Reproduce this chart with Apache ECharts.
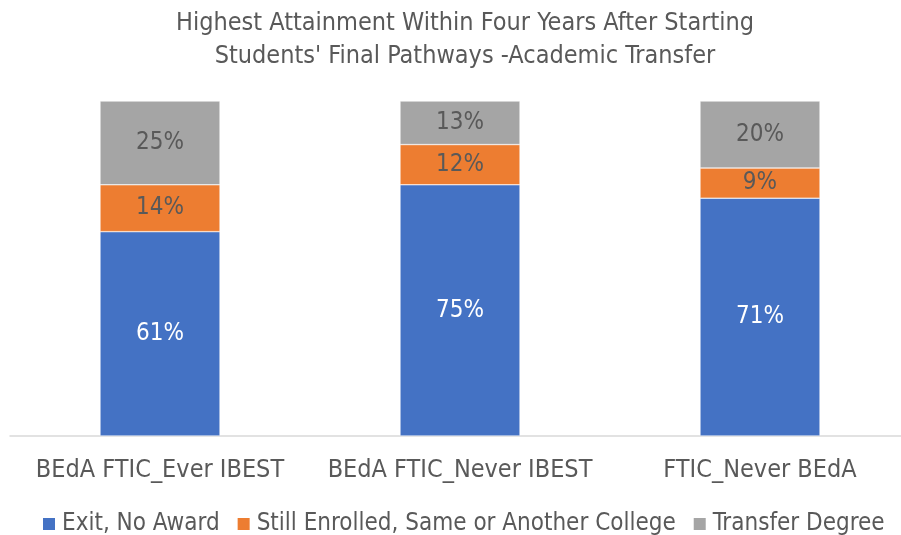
<!DOCTYPE html>
<html>
<head>
<meta charset="utf-8">
<script src="https://cdn.jsdelivr.net/npm/echarts@6/dist/echarts.min.js"></script>
<style>
  html, body { margin: 0; padding: 0; background: #fff; overflow: hidden; }
  #chart { width: 920px; height: 535px; }
</style>
</head>
<body>
<div id="chart"></div>
<script>
  'use strict'

  /*---- data ----*/
  var categories = ['BEdA FTIC_Ever IBEST', 'BEdA FTIC_Never IBEST', 'FTIC_Never BEdA'];
  var exitNoAward = [61, 75, 71];
  var stillEnrolled = [14, 12, 9];
  var transferDegree = [25, 13, 20];

  var font = '"Liberation Sans Narrow", "DejaVu Sans Condensed", sans-serif';
  var grey = '#595959';

  function pct(p) { return p.value + '%'; }

  function barSeries(name, data, color, labelColor) {
    return {
      name: name,
      type: 'bar',
      stack: 'total',
      data: data,
      barWidth: '40%',
      itemStyle: { color: color, borderColor: '#ffffff', borderWidth: 0.5 },
      label: {
        show: true,
        position: 'inside',
        formatter: pct,
        color: labelColor,
        fontFamily: font,
        fontSize: 24
      }
    };
  }

  var chart = echarts.init(document.getElementById('chart'));
  chart.setOption({
    animation: false,
    title: {
      text: 'Highest Attainment Within Four Years After Starting\nStudents\' Final Pathways -Academic Transfer',
      left: 460,
      textAlign: 'center',
      top: 2,
      textStyle: {
        fontFamily: font,
        fontSize: 25,
        fontWeight: 'normal',
        color: grey,
        lineHeight: 33
      }
    },
    legend: {
      top: 507,
      left: 36,
      itemWidth: 14,
      itemHeight: 14,
      itemGap: 16,
      icon: 'rect',
      textStyle: { fontFamily: font, fontSize: 24, color: grey, padding: [0, 0, 0, 1] },
      data: ['Exit, No Award', 'Still Enrolled, Same or Another College', 'Transfer Degree']
    },
    grid: { left: 10, width: 900, top: 101, bottom: 99 },
    xAxis: {
      type: 'category',
      data: categories,
      axisLine: { lineStyle: { color: '#d9d9d9', width: 1.5 } },
      axisTick: { show: false },
      axisLabel: { interval: 0, fontFamily: font, fontSize: 25, color: grey, margin: 22 }
    },
    yAxis: {
      type: 'value',
      min: 0,
      max: 100,
      show: false,
      splitLine: { show: false }
    },
    series: [
      barSeries('Exit, No Award', exitNoAward, '#4472c4', '#ffffff'),
      barSeries('Still Enrolled, Same or Another College', stillEnrolled, '#ed7d31', grey),
      barSeries('Transfer Degree', transferDegree, '#a5a5a5', grey)
    ]
  });
</script>
</body>
</html>
